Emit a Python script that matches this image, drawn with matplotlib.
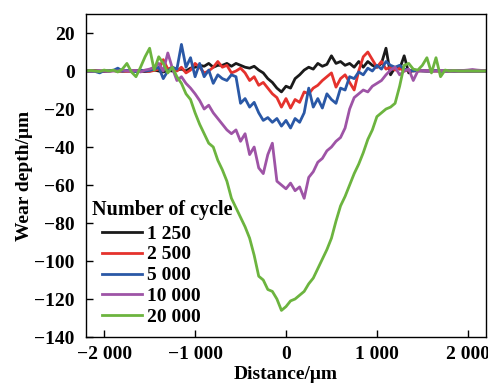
import numpy as np
import matplotlib
matplotlib.use('Agg')
import matplotlib.pyplot as plt

# sampling positions (um)
distance = np.arange(-2200, 2201, 50)

# wear depth (um), one row = 10 samples
cyc_1250 = [0, 0, 0.2, 0, -0.2, 0, 0.3, 0, -0.1, 0,
            0, 0.2, 0, -0.3, 0, 0.5, 0, -0.5, 0.3, 0,
            0.5, 1, 0, 1.5, 2, 3, 2.5, 4, 2, 3,
            3, 4, 2.5, 4, 3, 2, 1.5, 2.5, 0.5, -1,
            -4, -6, -9, -11, -8, -9, -4, -2, 0.5, 2,
            1, 4, 2.5, 3.5, 8, 4, 5, 3, 4, 2,
            5, 2, 5, 3, 2, 4, 12, -2, 2, 1,
            8, -1, 0.5, 0, 0.2, 0, 0, 0.1, 0, 0,
            0, 0, 0, 0, 0, 0, 0, 0, 0]
cyc_2500 = [0, 0.1, 0, -0.1, 0, 0, 0.2, 0, 0, -0.2,
            0, 0, 0.3, 0, -0.2, 0.3, 1, 6, 1, 2,
            0, 2, -1, 0.5, 4, 2, -1, 0, 2, 5,
            2, 3, -1, 0, 1.5, -1, -5, -3, -7.5, -6,
            -9, -12, -14, -19, -14.5, -19.5, -15, -16.5, -11, -12,
            -9, -7.5, -5, -3, -1, -8.5, -4, -2, -6, -10,
            0, 7.5, 10, 6, 2, 5, 1, 2, 0.5, 1.5,
            0, 0.5, 0, 0.2, 0, 0, 0.1, 0, 0, 0,
            0, 0, 0, 0, 0, 0, 0, 0, 0]
cyc_5000 = [0, 0, -0.2, -1, 0.2, 0, 0.3, 1.5, 0, 0.3,
            0, -0.3, 0.5, 0, 0.3, 1, 2, -4, 0, 2,
            1, 14, 2, 7, -3, 4, -3, 0.5, -6.5, -2,
            -4, -5, -2, -3, -17, -14.5, -19, -16.5, -22, -26,
            -24.5, -27, -25, -29, -26, -30, -25, -27, -22, -9,
            -19, -14.5, -19.5, -12, -15, -17, -9, -10, -3, -4,
            -0.5, -2, 1.5, 0, 3, 1, 5, 3, 2, 3,
            1, 0.5, 0, 0.3, 0, 0, 0, 0.2, 0, 0,
            0, 0, 0, 0, 0, 0, 0, 0, 0]
cyc_10000 = [0, 0, 0, 0.2, 0, -0.2, 0, 0, 0.5, 0,
             0, 0.3, -0.5, 0.5, 1, 2, 4, 0, 9.5, 1.5,
             -5, -3, -6.5, -9, -12, -15.5, -20, -18, -22, -25,
             -28, -31, -33, -31, -37, -33, -44, -40, -51, -54,
             -44, -38, -58, -60, -62, -59, -63, -61, -67, -56,
             -53, -48, -46, -42, -40, -37, -35, -30, -20, -14,
             -12, -10, -11, -8, -6.5, -5, -2, 0.5, 2, -2,
             0, 1, -5, 0, 0.3, 0, 0.2, 0, 0.3, 0,
             0, 0.2, 0, 0.3, 0.5, 0.8, 0.5, 0.3, 0]
cyc_20000 = [0, 0.3, 0, -0.3, 0.5, 0, 0.5, -0.5, 1, 4,
             -0.5, -3, 2, 7.5, 12, 0.5, 7.5, 4, -1, 2,
             -3, -6.5, -12, -15, -22, -28, -33, -38, -40, -47,
             -52, -58, -67, -72, -77, -82, -88, -97, -108, -110,
             -115, -116, -120, -126, -124, -121, -120, -118, -116, -112,
             -109, -104, -99, -94, -88, -79, -71, -66, -60, -54,
             -49, -43, -36, -31, -24, -22, -20, -19, -17, -8,
             3, 4, 1, 0.5, 3, 7, -1, 7, -3, 0.5,
             0, 0.2, 0, 0, 0.1, 0, 0, 0, 0]

labels = ['1 250', '2 500', '5 000', '10 000', '20 000']
colors = ['#1a1a1a', '#e5322d', '#2a58a6', '#9e54a6', '#6cb43f']
series = [cyc_1250, cyc_2500, cyc_5000, cyc_10000, cyc_20000]

plt.rcParams['font.family'] = ['Liberation Serif', 'DejaVu Serif']
plt.rcParams['font.weight'] = 'bold'

fig = plt.figure(figsize=(4.88, 3.83), dpi=100)
ax = fig.add_axes([0.1762, 0.1201, 0.8197, 0.8433])

for y, lab, c in zip(series, labels, colors):
    ax.plot(distance, y, color=c, lw=2.0, label=lab)

ax.set_xlim(-2200, 2200)
ax.set_ylim(-140, 30)
ax.set_xticks([-2000, -1000, 0, 1000, 2000])
ax.set_xticklabels(['\u22122 000', '\u22121 000', '0', '1 000', '2 000'])
ax.set_yticks(np.arange(-140, 21, 20))
ax.tick_params(direction='in', length=5, width=1, labelsize=14)
ax.tick_params(axis='y', pad=8)
ax.tick_params(axis='x', pad=6.5)
for s in ax.spines.values():
    s.set_linewidth(1.0)

ax.set_xlabel('Distance/\u03bcm', fontsize=14, fontweight='bold', labelpad=2)
ax.set_ylabel('Wear depth/\u03bcm', fontsize=14, fontweight='bold', labelpad=1)

ax.text(0.015, 0.378, 'Number of cycle', transform=ax.transAxes, fontsize=14.5,
        fontweight='bold', va='baseline', ha='left')
ax.legend(loc='upper left', bbox_to_anchor=(0.04, 0.347), frameon=False,
          fontsize=14, handlelength=2.06, labelspacing=0.17, borderpad=0,
          borderaxespad=0, handletextpad=0.26)

fig.savefig('out.png', dpi=100)
